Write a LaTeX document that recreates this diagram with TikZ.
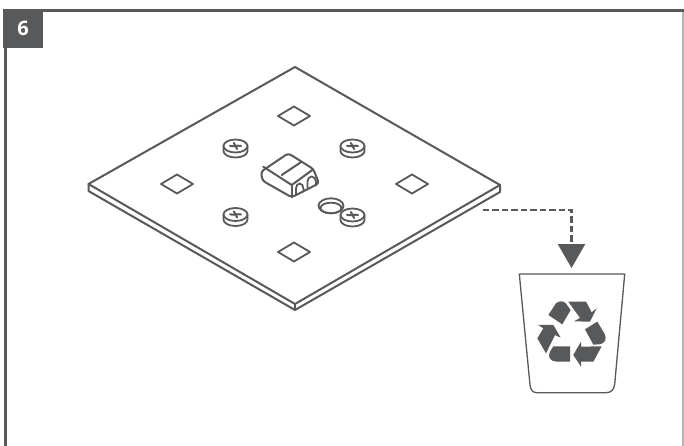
\documentclass[tikz,border=0pt]{standalone}
\usepackage{fontspec}
\setmainfont{Open Sans}
\usetikzlibrary{arrows.meta}
\definecolor{ink}{HTML}{58595B}
\tikzset{
 ln/.style={draw=ink,line width=2pt,line join=round,line cap=round},
 pad/.style={ln,line width=1.8pt},
 icon/.style={fill=ink,draw=none},
 badge/.style={fill=ink,draw=none,text=white,font=\bfseries\fontsize{20pt}{20pt}\selectfont,inner sep=0pt},
 dashconn/.style={draw=ink,line width=2.5pt,dash pattern=on 6.5pt off 3pt,-{Triangle[length=24pt,width=27pt,fill=ink]}},
}
\newcommand{\screw}[2]{%
 \begin{scope}[shift={(#1,#2)}]
  \draw[ln,line width=1.8pt,fill=white] (-12,-2) -- (-12,3) arc[start angle=180,end angle=0,x radius=12,y radius=6.5] -- (12,-2);
  \draw[ln,line width=1.8pt,fill=white] (0,-2) ellipse[x radius=12,y radius=6.5];
  \draw[ln,line width=2pt] (-5.5,-2.2) .. controls (-2,-1) and (2,-3) .. (5.5,-2);
  \draw[ln,line width=2pt] (-1.6,-5) -- (1.6,1);
 \end{scope}}
\begin{document}
\begin{tikzpicture}[x=1pt,y=-1pt]
\useasboundingbox (0,0) rectangle (684,446);
\fill[white] (0,0) rectangle (684,446);
% frame
\draw[draw=ink!45,line width=1.4pt] (683,11) -- (683,452);
\draw[draw=ink,line width=3pt] (5,452) -- (5,11) -- (684,11);
\node[badge,minimum width=39.5pt,minimum height=38.5pt] (badge) at (23,28.5) {6};
% plate
\draw[ln,fill=white] (88.5,184) -- (295,67) -- (500,185) -- (295,304) -- cycle;
\draw[ln] (88.5,184) -- (88.5,191) -- (295,310) -- (500,192) -- (500,185);
\draw[ln,line width=1.6pt] (295,304) -- (295,310);
% pads
\foreach \x/\y in {294/116,177/184,412/184,294/252}
 \draw[pad] (\x-16,\y) -- (\x,\y-9.5) -- (\x+16,\y) -- (\x,\y+9.5) -- cycle;
% ring
\draw[ln,line width=1.8pt,fill=white] (331,205.8) ellipse[x radius=12.5,y radius=7.5];
\draw[ln,line width=1.8pt] (331,208) ellipse[x radius=10.5,y radius=5.3];
% screws
\screw{235.5}{148}
\screw{352.5}{148}
\screw{235.5}{216.5}
\screw{352.5}{217}
% connector block
\draw[ln,fill=white,rounded corners=3pt] (261,171.7) -- (288.3,153.3) -- (313.3,169) -- (319,183.3) -- (291.7,197.3) -- (262.5,180.7) -- cycle;
\draw[ln] (263.3,166.7) -- (291.7,185) -- (313.3,169.3);
\draw[ln] (281.7,175) -- (301.7,161.7);
\draw[ln] (291.7,185) -- (291.7,197.3);
\draw[ln,line width=1.8pt] (296,194) -- (296,188.5) arc[start angle=180,end angle=360,x radius=3.7,y radius=5] -- (303.4,191.5);
\draw[ln,line width=1.8pt] (307.5,188) -- (307.5,181.5) arc[start angle=180,end angle=360,x radius=4.2,y radius=5] -- (315.9,185.5);
% connector
\coordinate (c1) at (482.5,210);
\coordinate (c2) at (571.5,210);
\coordinate (c3) at (571.5,268);
\draw[dashconn] (c1) -- (c2) -- (c3);
% bin
\draw[ink,line width=1.3pt,line join=round] (519.3,274) -- (624.7,274) -- (614.7,384) .. controls (614,390) and (611,392.7) .. (606,392.7) -- (537,392.7) .. controls (533,392.7) and (530.4,390) .. (530,385) -- cycle;
% recycle
\begin{scope}[shift={(500,260)},x=0.3333pt,y=-0.3333pt]
 \fill[icon] (145,165) -- (168,130) .. controls (176,122) and (192,122) .. (198,131) -- (212,150) -- (187,193) -- cycle;
 \fill[icon] (205,125) -- (258,125) -- (275,157) -- (290,145) -- (270,185) -- (222,184) -- (240,174) -- cycle;
 \fill[icon] (255,208) -- (292,185) -- (314,222) .. controls (322,236) and (314,252) .. (298,253) -- (280,254) -- cycle;
 \fill[icon] (305,259) -- (280,305) -- (243,305) -- (243,320) -- (220,285) -- (243,245) -- (243,260) -- cycle;
 \fill[icon] (210,259) -- (210,305) -- (170,305) .. controls (152,305) and (141,290) .. (150,275) -- (160,259) -- cycle;
 \fill[icon] (115,195) -- (160,195) -- (182,233) -- (165,225) -- (138,280) -- (112,235) -- (130,205) -- cycle;
\end{scope}
\end{tikzpicture}
\end{document}
